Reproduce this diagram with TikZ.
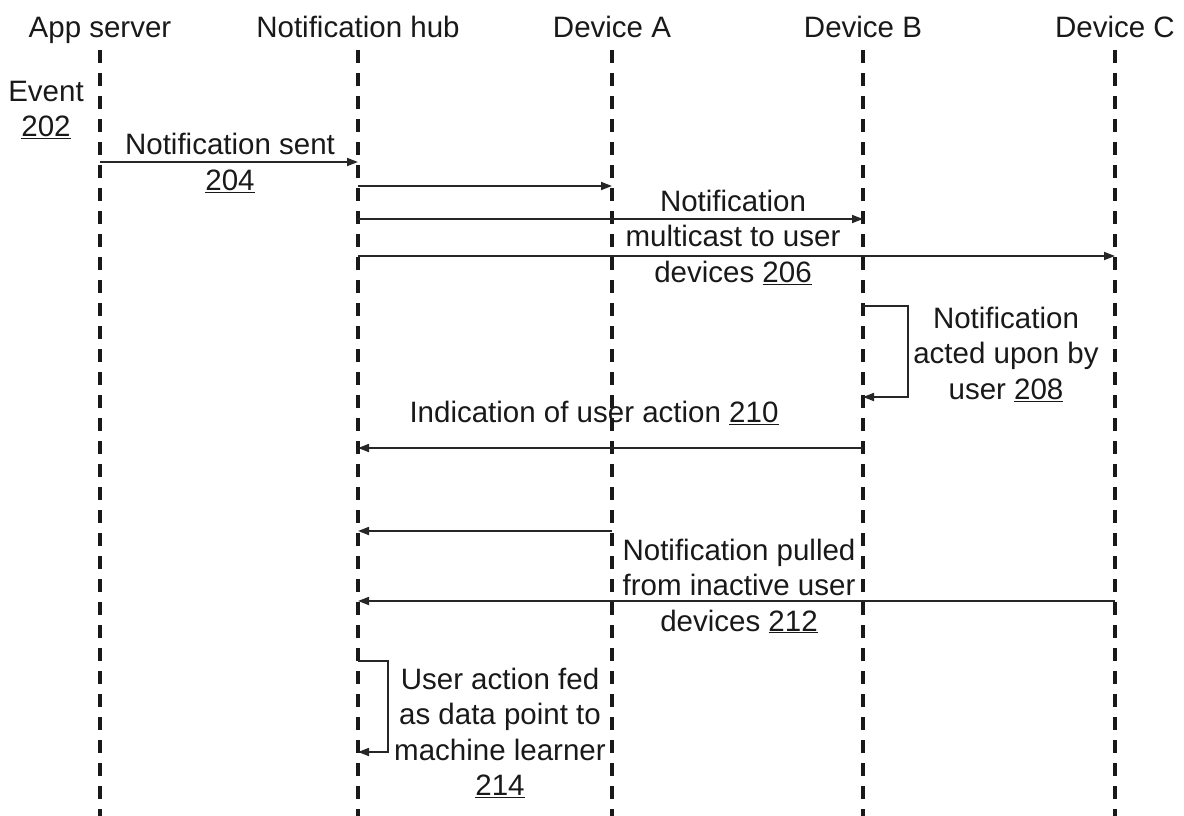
\documentclass[tikz,border=0pt]{standalone}
\usepackage{fontspec}
\setmainfont{Liberation Sans}
\usetikzlibrary{arrows.meta}
\begin{document}
\begin{tikzpicture}[x=1pt,y=-1pt,
  lifeline/.style={line width=3.2pt,dash pattern=on 13pt off 10pt,black!90},
  msg/.style={line width=1.7pt,black!85,-{Triangle[length=11pt,width=8pt]}},
  lbl/.style={font=\fontsize{29.5}{35.5}\selectfont,align=center,inner sep=0pt,text=black!90}]
\useasboundingbox (0,0) rectangle (1184,816);
% headers
\node[lbl,anchor=base] (hA) at (100,38) {App server};
\node[lbl,anchor=base] (hH) at (358,38) {Notification hub};
\node[lbl,anchor=base] (hDA) at (612,38) {Device A};
\node[lbl,anchor=base] (hDB) at (863,38) {Device B};
\node[lbl,anchor=base] (hDC) at (1115,38) {Device C};
% lifelines
\foreach \n/\x in {A/100,H/358,DA/612,DB/863,DC/1115}{
  \coordinate (t\n) at (\x,50);
  \coordinate (b\n) at (\x,820);
  \draw[lifeline] (t\n) -- (b\n);
}
% event
\node[lbl] (ev) at (46,110) {Event\\\underline{202}};
% 204
\coordinate (a1) at (100,162); \coordinate (h1) at (358,162);
\draw[msg] (a1) -- (h1);
\node[lbl] (l204) at (230,163) {Notification sent\\\underline{204}};
% multicast 206
\coordinate (h2) at (358,186); \coordinate (da2) at (612,186);
\coordinate (h3) at (358,219); \coordinate (db3) at (863,219);
\coordinate (h4) at (358,256); \coordinate (dc4) at (1115,256);
\draw[msg] (h2) -- (da2);
\draw[msg] (h3) -- (db3);
\draw[msg] (h4) -- (dc4);
\node[lbl] (l206) at (733,237) {Notification\\multicast to user\\devices \underline{206}};
% 208 self loop
\coordinate (db5) at (863,306); \coordinate (db6) at (863,397);
\draw[msg] (db5) -- (908,306) -- (908,397) -- (db6);
\node[lbl] (l208) at (1006,354) {Notification\\acted upon by\\user \underline{208}};
% 210
\coordinate (db7) at (863,448); \coordinate (h7) at (358,448);
\draw[msg] (db7) -- (h7);
\node[lbl] (l210) at (594,413) {Indication of user action \underline{210}};
% 212
\coordinate (da8) at (612,531); \coordinate (h8) at (358,531);
\coordinate (dc9) at (1115,601); \coordinate (h9) at (358,601);
\draw[msg] (da8) -- (h8);
\draw[msg] (dc9) -- (h9);
\node[lbl] (l212) at (739,586) {Notification pulled\\from inactive user\\devices \underline{212}};
% 214 self loop
\coordinate (h10) at (358,661); \coordinate (h11) at (358,752);
\draw[msg] (h10) -- (388,661) -- (388,752) -- (h11);
\node[lbl] (l214) at (500,733) {User action fed\\as data point to\\machine learner\\\underline{214}};
\end{tikzpicture}
\end{document}
